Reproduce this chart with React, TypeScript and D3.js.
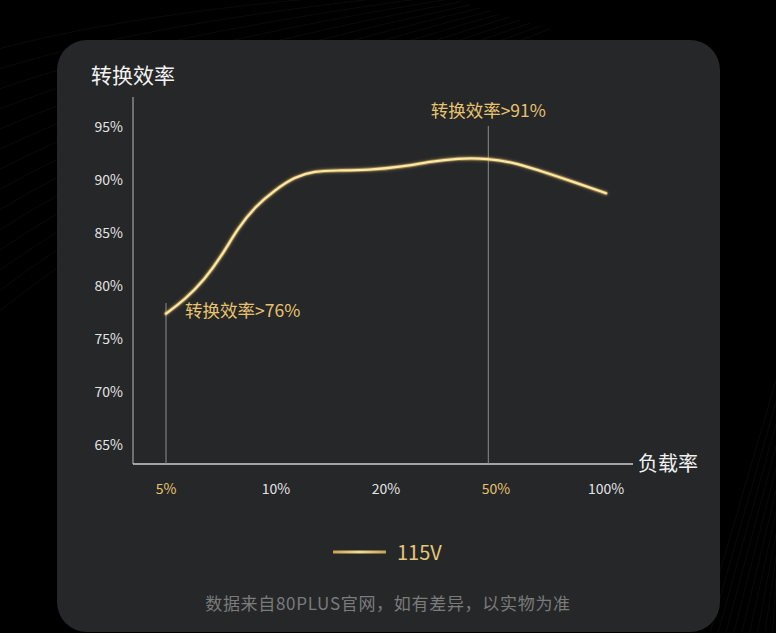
import React from "react";
import * as d3 from "d3";

// load categories on the x axis (evenly spaced)
const loadLabels = ["5%", "10%", "20%", "50%", "100%"];
const highlightLoads = ["5%", "50%"];
const yTicks = [65, 70, 75, 80, 85, 90, 95];

// 115V curve: position in load-category index, efficiency %
const curveIndex = [0, 0.17, 0.35, 0.51, 0.65, 0.81, 0.99, 1.17, 1.35, 1.55, 1.85, 2.15, 2.4, 2.65, 2.92, 3.19, 3.45, 3.74, 4.0];
const curveEff = [77.4, 78.7, 80.6, 82.9, 85.4, 87.5, 89.05, 90.3, 90.85, 90.9, 90.94, 91.25, 91.73, 92.05, 92.05, 91.6, 90.7, 89.7, 88.75];

// guide markers
const guideIndex = [0, 2.93];
const guideTop = [78.4, 95.1];
const guideText = ["转换效率>76%", "转换效率>91%"];

const W = 776;
const H = 633;
const FONT = "'Noto Sans CJK SC', 'Noto Sans', sans-serif";
const GOLD = "#e6c36e";

export default function App() {
    const x = d3.scaleLinear().domain([0, loadLabels.length - 1]).range([166, 606]);
    const y = d3.scaleLinear().domain([65, 95]).range([445, 127]);
    const axisX0 = 133;
    const axisY = 464;

    const pts: [number, number][] = curveIndex.map((v, i) => [v, curveEff[i]]);
    const line = d3.line<[number, number]>()
        .x(d => x(d[0]))
        .y(d => y(d[1]))
        .curve(d3.curveBasis);
    const path = line(pts) || "";

    // faint decorative streaks in the dark background
    const streaksTL = d3.range(14).map(i => `M${-40} ${60 + i * 22} Q ${120} ${10 + i * 14} ${420 + i * 10} ${-10 + i * 3}`);
    const streaksBR = d3.range(12).map(i => `M${700 + i * 8} ${640} L ${776} ${380 + i * 22}`);

    return (
        <svg width={W} height={H} style={{ position: "absolute", left: 0, top: 0, background: "#000" }}>
            <defs>
                <filter id="glow" x="-10%" y="-30%" width="120%" height="160%">
                    <feGaussianBlur stdDeviation="1.8" result="b" />
                    <feMerge>
                        <feMergeNode in="b" />
                        <feMergeNode in="SourceGraphic" />
                    </feMerge>
                </filter>
                <linearGradient id="legendGrad" gradientUnits="userSpaceOnUse" x1={333} x2={386} y1={0} y2={0}>
                    <stop offset="0" stopColor="#c9a24e" />
                    <stop offset="0.5" stopColor="#f3dc95" />
                    <stop offset="1" stopColor="#c9a24e" />
                </linearGradient>
            </defs>
            <rect x={0} y={0} width={W} height={H} fill="#000" />
            <g stroke="#ffffff" strokeOpacity={0.05} fill="none" strokeWidth={0.8}>
                {streaksTL.map((d, i) => <path key={"a" + i} d={d} />)}
                {streaksBR.map((d, i) => <path key={"b" + i} d={d} />)}
            </g>
            <rect x={57} y={40} width={663} height={592} rx={30} fill="#262729" />

            {/* titles */}
            <text x={91} y={83} fill="#f2f2f2" fontSize={21} fontFamily={FONT}>转换效率</text>
            <text x={638} y={471} fill="#f2f2f2" fontSize={20} fontFamily={FONT}>负载率</text>

            {/* axes */}
            <line x1={axisX0} x2={axisX0} y1={97} y2={axisY} stroke="#8a8a8a" strokeWidth={1.5} />
            <line x1={axisX0} x2={633} y1={axisY} y2={axisY} stroke="#cfcfcf" strokeWidth={1.5} />

            {yTicks.map(t => (
                <text key={t} x={123} y={y(t)} dy="0.35em" textAnchor="end" fill="#e4e4e4"
                    fontSize={14} fontFamily={FONT}>{t}%</text>
            ))}
            {loadLabels.map((l, i) => (
                <text key={l} x={x(i)} y={489} dy="0.35em" textAnchor="middle"
                    fill={highlightLoads.includes(l) ? GOLD : "#e4e4e4"}
                    fontSize={14} fontFamily={FONT}>{l}</text>
            ))}

            {/* guide lines */}
            {guideIndex.map((g, i) => (
                <line key={i} x1={x(g)} x2={x(g)} y1={y(guideTop[i])} y2={axisY}
                    stroke="#8c8c8c" strokeWidth={1} />
            ))}

            {/* curve */}
            <path d={path} fill="none" stroke="#e9c165" strokeWidth={4} strokeOpacity={0.4}
                filter="url(#glow)" strokeLinecap="round" />
            <path d={path} fill="none" stroke="#fbe7a6" strokeWidth={2.2} strokeLinecap="round" />

            {/* annotations */}
            <text x={x(guideIndex[0]) + 19} y={311} dy="0.35em" fill={GOLD} fontSize={17.5}
                fontFamily={FONT}>{guideText[0]}</text>
            <text x={x(guideIndex[1])} y={111} dy="0.35em" textAnchor="middle" fill={GOLD} fontSize={17.5}
                fontFamily={FONT}>{guideText[1]}</text>

            {/* legend */}
            <line x1={333} x2={386} y1={552} y2={552} stroke="url(#legendGrad)" strokeWidth={3} />
            <text x={397} y={553} dy="0.35em" fill="#e8c878" fontSize={20} fontFamily={FONT}>115V</text>

            {/* footer */}
            <text x={388} y={604} dy="0.35em" textAnchor="middle" fill="#7b7b7b" fontSize={17}
                letterSpacing={0.7} fontFamily={FONT}>数据来自80PLUS官网，如有差异，以实物为准</text>
        </svg>
    );
}
